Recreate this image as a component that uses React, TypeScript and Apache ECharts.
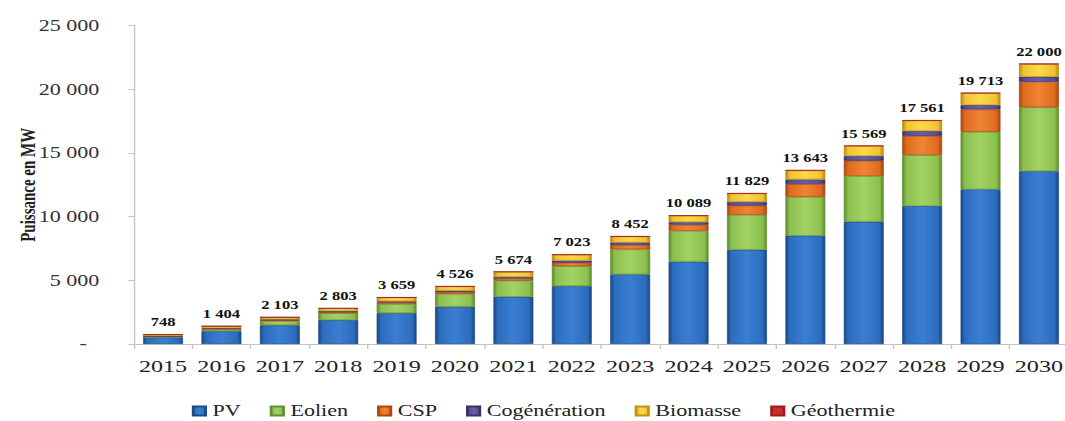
import React, { useEffect, useRef } from "react";
import * as echarts from "echarts";

const years = ["2015", "2016", "2017", "2018", "2019", "2020", "2021", "2022", "2023", "2024", "2025", "2026", "2027", "2028", "2029", "2030"];
const pv = [520, 1000, 1470, 1880, 2420, 2930, 3710, 4540, 5470, 6470, 7400, 8500, 9600, 10830, 12140, 13575];
const eolien = [60, 150, 330, 540, 720, 1000, 1250, 1570, 1960, 2410, 2750, 3060, 3590, 4005, 4525, 5010];
const csp = [25, 50, 70, 90, 120, 150, 175, 270, 340, 470, 720, 1000, 1200, 1515, 1755, 2000];
const cogeneration = [25, 45, 60, 75, 90, 100, 130, 170, 200, 210, 290, 360, 370, 370, 340, 400];
const biomasse = [115, 155, 168, 212, 302, 340, 400, 463, 471, 517, 655, 708, 794, 826, 938, 1000];
const geothermie = [3, 4, 5, 6, 7, 6, 9, 10, 11, 12, 14, 15, 15, 15, 15, 15];
const totals = [748, 1404, 2103, 2803, 3659, 4526, 5674, 7023, 8452, 10089, 11829, 13643, 15569, 17561, 19713, 22000];
const yTicks = [0, 5000, 10000, 15000, 20000, 25000];

const SCALE_X = 1.38;
const INNER_W = 772;
const H = 421;
const FONT = "'Liberation Serif', 'Times New Roman', serif";

const fmt = (n: number) => String(n).replace(/\B(?=(\d{3})+(?!\d))/g, " ");

const bevel = (dark: string, base: string, light: string) =>
  new echarts.graphic.LinearGradient(0, 0, 1, 0, [
    { offset: 0, color: dark },
    { offset: 0.1, color: base },
    { offset: 0.5, color: light },
    { offset: 0.9, color: base },
    { offset: 1, color: dark },
  ]);

export default function App() {
  const ref = useRef<HTMLDivElement>(null);
  useEffect(() => {
    if (!ref.current) return;
    const chart = echarts.init(ref.current, null, { renderer: "svg" });
    const mk = (name: string, data: number[], color: any, border: string, last = false) => ({
      name,
      type: "bar",
      stack: "total",
      barWidth: 29,
      data,
      itemStyle: { color, borderColor: border, borderWidth: 0.6 },
      label: last
        ? {
            show: true,
            position: "top",
            distance: 6,
            formatter: (p: any) => fmt(totals[p.dataIndex]),
            fontFamily: FONT,
            fontWeight: "bold",
            fontSize: 12,
            color: "#111",
          }
        : { show: false },
    });
    chart.setOption({
      animation: false,
      backgroundColor: "#ffffff",
      grid: { left: 97, right: -2, top: 25.6, bottom: 77, containLabel: false, outerBoundsMode: "none" },
      legend: {
        left: 139,
        top: 403,
        padding: 0,
        itemWidth: 9,
        itemHeight: 9,
        itemGap: 21,
        icon: "rect",
        textStyle: { fontFamily: FONT, fontSize: 16, color: "#222", lineHeight: 16 },
        data: ["PV", "Eolien", "CSP", "Cogénération", "Biomasse", "Géothermie"],
      },
      xAxis: {
        type: "category",
        data: years,
        axisLine: { lineStyle: { color: "#c4c4c4", width: 1 } },
        axisTick: { show: true, length: 5, lineStyle: { color: "#c4c4c4" } },
        axisLabel: { interval: 0, fontFamily: FONT, fontSize: 17.5, color: "#222", margin: 13 },
      },
      yAxis: {
        type: "value",
        min: yTicks[0],
        max: yTicks[yTicks.length - 1],
        interval: yTicks[1] - yTicks[0],
        name: "Puissance en MW",
        nameLocation: "middle",
        nameGap: 69,
        nameMoveOverlap: false,
        nameTextStyle: { fontFamily: FONT, fontSize: 15, fontWeight: "bold", color: "#222" },
        axisLine: { show: true, lineStyle: { color: "#c4c4c4", width: 1 } },
        axisTick: { show: true, length: 4, lineStyle: { color: "#c4c4c4" } },
        splitLine: { show: false },
        axisLabel: {
          fontFamily: FONT,
          fontSize: 16,
          color: "#333",
          margin: 25,
          formatter: (v: number) => (v === 0 ? "{d|-}" : fmt(v)),
          rich: { d: { fontFamily: FONT, fontSize: 16, color: "#333", padding: [0, 9, 0, 0] } },
        },
      },
      series: [
        mk("PV", pv, bevel("#1a4582", "#2c6cbd", "#3a7ed2"), "#1d4a86"),
        mk("Eolien", eolien, bevel("#5d8a2c", "#8cc04e", "#a2d264"), "#628f30"),
        mk("CSP", csp, bevel("#a4470f", "#df6a1e", "#f08436"), "#a9480f"),
        mk("Cogénération", cogeneration, bevel("#352a63", "#574b90", "#6a5ea6"), "#3b306b"),
        mk("Biomasse", biomasse, bevel("#b48710", "#f1c22e", "#fbd94c"), "#c09114"),
        mk("Géothermie", geothermie, "#d22a2a", "#a01c1c", true),
      ],
    });
    return () => chart.dispose();
  }, []);
  return (
    <div style={{ position: "fixed", left: 0, top: 0, width: 1065, height: H, overflow: "hidden", background: "#fff" }}>
      <div
        ref={ref}
        style={{ width: INNER_W, height: H, transform: `scaleX(${SCALE_X})`, transformOrigin: "0 0" }}
      />
    </div>
  );
}
